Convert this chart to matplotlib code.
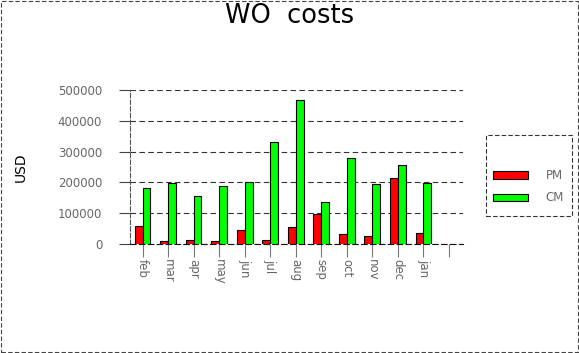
import numpy as np
import matplotlib
matplotlib.use('Agg')
from matplotlib import pyplot as plt
from matplotlib.patches import Rectangle

months = ['feb', 'mar', 'apr', 'may', 'jun', 'jul', 'aug', 'sep', 'oct', 'nov', 'dec', 'jan', '']
pm = [58000, 11000, 13000, 11000, 44000, 13000, 55000, 98000, 32000, 26000, 213000, 35000]
cm = [181000, 197000, 155000, 187000, 200000, 330000, 466000, 137000, 278000, 194000, 256000, 197000]
yticks = [0, 100000, 200000, 300000, 400000, 500000]

W, H = 579, 353
fig = plt.figure(figsize=(5.79, 3.53), dpi=100)
ax = fig.add_axes([0.2245, 0.3088, 0.5752, 0.4362])

x = np.arange(len(pm))
w = 0.31
ax.bar(x - w / 2, pm, w, color='#ff0000', edgecolor='black', linewidth=0.8, label='PM', zorder=3)
ax.bar(x + w / 2, cm, w, color='#00ff00', edgecolor='black', linewidth=0.8, label='CM', zorder=3)

ax.set_xlim(-0.49, 12.55)
ax.set_ylim(0, 500000)
ax.set_xticks(np.arange(len(months)))
ax.set_xticklabels(months, rotation=270, color='#666666', fontsize=8.5)
ax.set_yticks(yticks)
ax.set_yticklabels([str(v) for v in yticks], color='#666666', fontsize=8.5)
ax.tick_params(axis='x', length=9, color='#777777', pad=2)
ax.tick_params(axis='y', length=8, color='#444444', pad=12)
for t in ax.xaxis.get_major_ticks():
    t.tick1line.set_linestyle((0, (3, 2)))

ax.grid(axis='y', linestyle=(0, (5, 3)), color='#333333', linewidth=0.8, zorder=0)
for s in ['top', 'right']:
    ax.spines[s].set_visible(False)
ax.spines['left'].set_linestyle((0, (4, 2)))
ax.spines['left'].set_color('#555555')
ax.spines['bottom'].set_linestyle((0, (5, 3)))
ax.spines['bottom'].set_color('#111111')
ax.spines['left'].set_linewidth(0.8)
ax.spines['bottom'].set_linewidth(0.8)

ax.set_ylabel('USD', fontsize=10, labelpad=22)
fig.text(0.5, 0.955, 'WO  costs', ha='center', va='center', fontsize=18.5)

# legend entries without frame, frame drawn separately
leg = ax.legend(loc='upper left', bbox_to_anchor=(493 / W, 1 - 169 / H), bbox_transform=fig.transFigure,
                frameon=False, fontsize=8.5, handlelength=3.0, handleheight=0.6,
                borderpad=0, borderaxespad=0, labelspacing=0.8, handletextpad=1.45)
for t in leg.get_texts():
    t.set_color('#666666')
fig.patches.append(Rectangle((486 / W, 1 - 216 / H), 86 / W, 81 / H, transform=fig.transFigure,
                             fill=False, edgecolor='#333333', linestyle=(0, (4, 2)), linewidth=0.8))

fig.patches.append(Rectangle((0.002, 0.003), 0.996, 0.994, transform=fig.transFigure,
                             fill=False, edgecolor='#444444', linestyle=(0, (4, 2)), linewidth=0.8))

fig.savefig('out.png', dpi=100)
